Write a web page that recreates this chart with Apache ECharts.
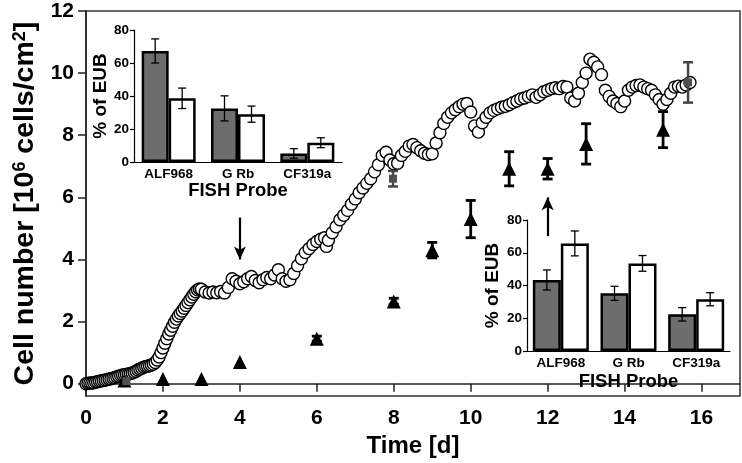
<!DOCTYPE html>
<html><head><meta charset="utf-8">
<script src="https://cdn.jsdelivr.net/npm/echarts@6/dist/echarts.min.js"></script>
<style>html,body{margin:0;padding:0;background:#fff}#c{width:742px;height:463px}</style>
</head><body><div id="c"></div>
<script>
// ---- main chart data: time [d] vs cell number [10^6 cells/cm^2]
const cellCurve = [
[0.00,0.00],[0.05,0.01],[0.10,0.02],[0.15,0.02],[0.20,0.03],[0.25,0.05],[0.30,0.06],[0.35,0.08],[0.40,0.09],[0.45,0.10],
[0.50,0.12],[0.55,0.13],[0.60,0.15],[0.65,0.16],[0.70,0.18],[0.75,0.20],[0.80,0.22],[0.85,0.24],[0.90,0.26],[0.95,0.28],
[1.00,0.29],[1.05,0.30],[1.10,0.31],[1.15,0.33],[1.20,0.34],[1.25,0.37],[1.30,0.40],[1.35,0.44],[1.40,0.47],[1.45,0.50],
[1.50,0.53],[1.55,0.55],[1.60,0.56],[1.65,0.58],[1.70,0.60],[1.75,0.63],[1.80,0.68],[1.85,0.76],[1.90,0.86],[1.95,1.00],
[2.00,1.15],[2.05,1.30],[2.10,1.45],[2.15,1.60],[2.20,1.72],[2.25,1.85],[2.30,1.98],[2.35,2.08],[2.40,2.18],[2.45,2.26],
[2.50,2.34],[2.55,2.43],[2.60,2.52],[2.65,2.61],[2.70,2.70],[2.75,2.79],[2.80,2.88],[2.85,2.96],[2.90,3.02],[2.95,3.05],
[3.00,3.04],[3.1,2.95],[3.2,2.92],[3.3,2.95],[3.4,2.93],[3.5,2.97],[3.6,2.92],[3.7,3.10],[3.8,3.38],[3.9,3.30],
[4.0,3.22],[4.1,3.28],[4.2,3.38],[4.3,3.45],[4.4,3.32],[4.5,3.25],[4.6,3.35],[4.7,3.42],[4.8,3.38],[4.9,3.50],
[5.0,3.67],[5.1,3.38],[5.2,3.30],[5.3,3.35],[5.4,3.55],[5.5,3.80],[5.6,4.02],[5.7,4.22],[5.8,4.35],[5.9,4.48],
[6.0,4.58],[6.1,4.65],[6.2,4.70],[6.25,4.42],[6.3,4.62],[6.4,4.86],[6.5,5.05],[6.6,5.28],[6.7,5.42],[6.8,5.58],[6.9,5.78],
[7.0,5.95],[7.1,6.15],[7.2,6.30],[7.3,6.45],[7.4,6.60],[7.5,6.82],[7.6,7.05],[7.7,7.35],[7.8,7.45],[7.9,7.20],
[8.0,7.08],[8.1,7.10],[8.2,7.35],[8.3,7.48],[8.4,7.65],[8.5,7.70],[8.6,7.60],[8.7,7.50],[8.8,7.42],[8.9,7.38],
[9.0,7.40],[9.1,7.75],[9.2,8.08],[9.3,8.38],[9.4,8.58],[9.5,8.72],[9.6,8.82],[9.7,8.92],[9.8,9.00],[9.9,9.02],
[10.0,8.75],[10.1,8.30],[10.2,8.10],[10.3,8.40],[10.4,8.58],[10.5,8.72],[10.6,8.80],[10.7,8.85],[10.8,8.90],[10.9,8.93],
[11.0,8.98],[11.1,9.05],[11.2,9.10],[11.3,9.17],[11.4,9.20],[11.5,9.25],[11.6,9.30],[11.7,9.22],[11.8,9.30],[11.9,9.40],
[12.0,9.45],[12.1,9.50],[12.2,9.53],[12.3,9.50],[12.4,9.57],[12.5,9.55],[12.6,9.20],[12.7,9.10],[12.8,9.35],[12.9,9.70],
[13.0,10.00],[13.1,10.45],[13.2,10.35],[13.3,10.20],[13.4,9.95],[13.5,9.45],[13.6,9.25],[13.7,9.10],[13.8,9.02],[13.9,8.92],
[14.0,9.10],[14.1,9.45],[14.2,9.55],[14.3,9.60],[14.4,9.62],[14.5,9.55],[14.6,9.50],[14.7,9.45],[14.8,9.30],[14.9,9.15],
[15.0,9.00],[15.1,9.15],[15.2,9.35],[15.3,9.55],[15.4,9.58],[15.5,9.55],[15.6,9.62],[15.7,9.70]
];
const triDays   = [1, 2, 3, 4, 6, 8, 9, 10, 11, 12, 13, 15];
const triValues = [0.10, 0.15, 0.15, 0.70, 1.45, 2.65, 4.30, 5.30, 6.92, 6.92, 7.72, 8.18];
const triErrors = [0, 0, 0, 0, 0.08, 0.10, 0.25, 0.60, 0.55, 0.33, 0.65, 0.58];
const sqDays    = [1.05, 7.98, 15.65];
const sqValues  = [0.08, 6.60, 9.70];
const sqErrors  = [0, 0.25, 0.65];
const xTicks = [0, 2, 4, 6, 8, 10, 12, 14, 16];
const yTicks = [0, 2, 4, 6, 8, 10, 12];
const arrowDown = [[4, 5.35], [4, 4.0]];
const arrowUp   = [[12, 4.75], [12, 6.0]];
// ---- insets: % of EUB per FISH probe
const probes = ['ALF968', 'G Rb', 'CF319a'];
const insetTicks = [0, 20, 40, 60, 80];
const inset1Grey = [67.3, 32.5, 5.2];
const inset1GreyErr = [7.3, 7.6, 2.9];
const inset1White = [38.6, 29.0, 11.7];
const inset1WhiteErr = [6.2, 4.9, 3.0];
const inset2Grey = [43.4, 35.2, 22.4];
const inset2GreyErr = [6.1, 4.3, 4.1];
const inset2White = [65.7, 53.5, 31.6];
const inset2WhiteErr = [7.6, 4.8, 4.0];

const FONT = 'Liberation Sans, Arial, sans-serif';
const chart = echarts.init(document.getElementById('c'), null, {renderer: 'canvas'});

function mainErr(color, width, cap) {
  return function (params, api) {
    const x = api.value(0), y = api.value(1), e = api.value(2);
    const t = api.coord([x, y + e]), b = api.coord([x, y - e]);
    const style = {stroke: color, lineWidth: width};
    return {type: 'group', children: [
      {type: 'line', shape: {x1: t[0], y1: t[1], x2: b[0], y2: b[1]}, style},
      {type: 'line', shape: {x1: t[0] - cap, y1: t[1], x2: t[0] + cap, y2: t[1]}, style},
      {type: 'line', shape: {x1: b[0] - cap, y1: b[1], x2: b[0] + cap, y2: b[1]}, style}
    ]};
  };
}
function insetErr(side, barW) {
  return function (params, api) {
    const i = api.value(0), v = api.value(1), e = api.value(2);
    const t = api.coord([i, v + e]), b = api.coord([i, v - e]);
    const x = t[0] + side * barW / 2;
    const style = {stroke: '#000', lineWidth: 1.3};
    return {type: 'group', children: [
      {type: 'line', shape: {x1: x, y1: t[1], x2: x, y2: b[1]}, style},
      {type: 'line', shape: {x1: x - 4, y1: t[1], x2: x + 4, y2: t[1]}, style},
      {type: 'line', shape: {x1: x - 4, y1: b[1], x2: x + 4, y2: b[1]}, style}
    ]};
  };
}
const zip = (a, b, c) => a.map((v, i) => c ? [v, b[i], c[i]] : [v, b[i]]);
const zipIdx = (v, e) => v.map((x, i) => [i, x, e[i]]);

function insetX(gi, gap) {
  return {type: 'category', gridIndex: gi, data: probes,
    axisLine: {lineStyle: {color: '#000', width: 1.2}}, axisTick: {show: false},
    axisLabel: {color: '#000', fontFamily: FONT, fontWeight: 'bold', fontSize: 13.5, margin: 5, interval: 0},
    name: 'FISH Probe', nameLocation: 'middle', nameGap: gap,
    nameTextStyle: {color: '#000', fontFamily: FONT, fontWeight: 'bold', fontSize: 18.5}};
}
function insetY(gi, gap) {
  return {type: 'value', gridIndex: gi, min: 0, max: 80, interval: 20,
    axisLine: {show: true, lineStyle: {color: '#000', width: 1.2}},
    axisTick: {show: true, length: 4, lineStyle: {color: '#000', width: 1.2}},
    splitLine: {show: false},
    axisLabel: {color: '#000', fontFamily: FONT, fontWeight: 'bold', fontSize: 13.5, margin: 5, customValues: insetTicks},
    name: '% of EUB', nameLocation: 'middle', nameGap: gap,
    nameTextStyle: {color: '#000', fontFamily: FONT, fontWeight: 'bold', fontSize: 19}};
}
function bars(gi, vals, fill, bw) {
  return {type: 'bar', xAxisIndex: gi, yAxisIndex: gi, data: vals, barWidth: bw, barGap: '0%',
    itemStyle: {color: fill, borderColor: '#000', borderWidth: 2.5, opacity: 1}, z: 3, silent: true};
}
function errs(gi, vals, e, side, bw) {
  return {type: 'custom', xAxisIndex: gi, yAxisIndex: gi, data: zipIdx(vals, e),
    renderItem: insetErr(side, bw), z: 5, silent: true};
}

const option = {
  animation: false,
  backgroundColor: '#fff',
  grid: [
    {left: 86, right: 2, top: 11, bottom: 66, show: true, borderColor: '#333', borderWidth: 1.5},
    {left: 134, top: 30, width: 208, height: 132},
    {left: 527, top: 220, width: 203, height: 131}
  ],
  xAxis: [
    {type: 'value', gridIndex: 0, min: 0, max: 17,
      axisLine: {lineStyle: {color: '#222', width: 1.5}},
      axisTick: {show: true, length: 8, customValues: xTicks, lineStyle: {color: '#222', width: 1.5}},
      axisLabel: {color: '#000', fontFamily: FONT, fontWeight: 'bold', fontSize: 21, margin: 12, customValues: xTicks},
      splitLine: {show: false},
      name: 'Time [d]', nameLocation: 'middle', nameGap: 33,
      nameTextStyle: {color: '#000', fontFamily: FONT, fontWeight: 'bold', fontSize: 24}},
    insetX(1, 18), insetX(2, 21)
  ],
  yAxis: [
    {type: 'value', gridIndex: 0, min: -0.4, max: 12,
      axisLine: {show: true, lineStyle: {color: '#222', width: 1.5}},
      axisTick: {show: true, length: 8, customValues: yTicks, lineStyle: {color: '#222', width: 1.5}},
      axisLabel: {color: '#000', fontFamily: FONT, fontWeight: 'bold', fontSize: 21, margin: 12, customValues: yTicks},
      splitLine: {show: false},
      name: 'Cell number [10{sup|6} cells/cm{sup|2}]', nameLocation: 'middle', nameGap: 42,
      nameTextStyle: {color: '#000', fontFamily: FONT, fontWeight: 'bold', fontSize: 28.5,
        rich: {sup: {color: '#000', fontFamily: FONT, fontWeight: 'bold', fontSize: 18, verticalAlign: 'top'}}}},
    insetY(1, 18), insetY(2, 25)
  ],
  series: [
    {type: 'scatter', xAxisIndex: 0, yAxisIndex: 0, data: cellCurve, symbol: 'circle', symbolSize: 12,
      itemStyle: {color: '#fff', borderColor: '#000', borderWidth: 1.4, opacity: 1}, z: 2, silent: true,
      markLine: {silent: true, symbol: ['none', 'arrow'], symbolSize: [9, 13], label: {show: false},
        lineStyle: {color: '#000', width: 2.2, type: 'solid'},
        data: [
          [{coord: arrowDown[0]}, {coord: arrowDown[1]}],
          [{coord: arrowUp[0]}, {coord: arrowUp[1]}]
        ]}},
    {type: 'custom', xAxisIndex: 0, yAxisIndex: 0, data: zip(triDays, triValues, triErrors).filter(d => d[2] > 0),
      renderItem: mainErr('#000', 2.8, 5), z: 3, silent: true},
    {type: 'scatter', xAxisIndex: 0, yAxisIndex: 0, data: zip(triDays, triValues), symbol: 'triangle', symbolSize: 14,
      itemStyle: {color: '#000', opacity: 1}, z: 4, silent: true},
    {type: 'custom', xAxisIndex: 0, yAxisIndex: 0, data: zip(sqDays, sqValues, sqErrors).filter(d => d[2] > 0),
      renderItem: mainErr('#444', 2.5, 5), z: 5, silent: true},
    {type: 'scatter', xAxisIndex: 0, yAxisIndex: 0, data: zip(sqDays, sqValues), symbol: 'rect', symbolSize: 8,
      itemStyle: {color: '#505050', opacity: 1}, z: 6, silent: true},
    bars(1, inset1Grey, '#6d6d6d', 27), bars(1, inset1White, '#fff', 27),
    errs(1, inset1Grey, inset1GreyErr, -1, 27), errs(1, inset1White, inset1WhiteErr, 1, 27),
    bars(2, inset2Grey, '#6d6d6d', 28), bars(2, inset2White, '#fff', 28),
    errs(2, inset2Grey, inset2GreyErr, -1, 28), errs(2, inset2White, inset2WhiteErr, 1, 28)
  ]
};
chart.setOption(option);
</script></body></html>
